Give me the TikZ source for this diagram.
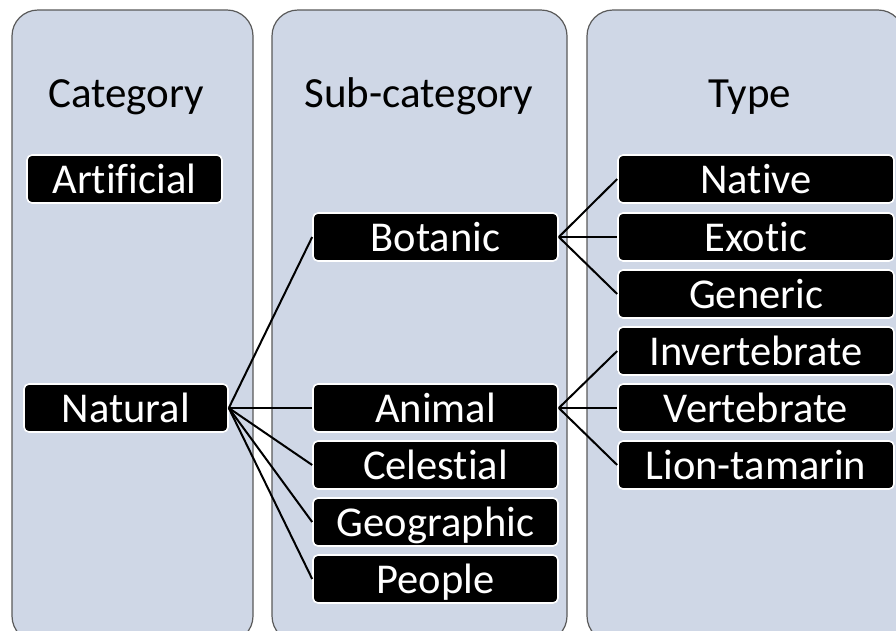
\documentclass[tikz,border=0pt]{standalone}
\usepackage{fontspec}
\setmainfont{Carlito}[Ligatures=NoCommon]
\begin{document}
\begin{tikzpicture}[x=1pt,y=-1pt,
  panel/.style={fill=panelfill,draw=panelborder,line width=1.2pt,rounded corners=26pt},
  itembox/.style={fill=black,draw=white,line width=1.6pt,rounded corners=5pt,text=white,
    inner sep=0pt,minimum height=48pt,text height=34pt,text depth=6pt,
    font=\fontsize{42.5}{48}\selectfont},
  header/.style={anchor=base,inner sep=0pt,font=\fontsize{43}{50}\selectfont},
  link/.style={line width=2pt,black}]
\definecolor{panelfill}{HTML}{CFD7E6}
\definecolor{panelborder}{HTML}{5A5A5A}
\useasboundingbox (0,0) rectangle (896,630);
\clip (0,0) rectangle (896,630);
\fill[white] (0,0) rectangle (896,630);
% panels
\draw[panel] (12,10) rectangle (253,642);
\draw[panel] (272,10) rectangle (567,642);
\draw[panel] (587,10) rectangle (904,642);
% headers
\node[header] (hcat) at (126,107) {Category};
\node[header] (hsub) at (419,107) {Sub-category};
\node[header] (htyp) at (750,107) {Type};
% category
\node[itembox,minimum width=195pt] (art) at (124.5,179) {Artificial};
\node[itembox,minimum width=204pt] (nat) at (126,408) {Natural};
% sub-category
\node[itembox,minimum width=245pt] (bot) at (435.5,237) {Botanic};
\node[itembox,minimum width=245pt] (ani) at (435.5,408) {Animal};
\node[itembox,minimum width=245pt] (cel) at (435.5,465) {Celestial};
\node[itembox,minimum width=245pt] (geo) at (435.5,522) {Geographic};
\node[itembox,minimum width=245pt] (peo) at (435.5,579) {People};
% type
\node[itembox,minimum width=276pt] (nat1) at (756,179) {Native};
\node[itembox,minimum width=276pt] (exo) at (756,237) {Exotic};
\node[itembox,minimum width=276pt] (gen) at (756,294) {Generic};
\node[itembox,minimum width=276pt] (inv) at (756,351) {Invertebrate};
\node[itembox,minimum width=276pt] (ver) at (756,408) {Vertebrate};
\node[itembox,minimum width=276pt] (lio) at (756,465) {Lion-tamarin};
% connectors
\foreach \t in {bot,ani,cel,geo,peo} \draw[link] (nat.east) -- (\t.west);
\foreach \t in {nat1,exo,gen} \draw[link] (bot.east) -- (\t.west);
\foreach \t in {inv,ver,lio} \draw[link] (ani.east) -- (\t.west);
\end{tikzpicture}
\end{document}
